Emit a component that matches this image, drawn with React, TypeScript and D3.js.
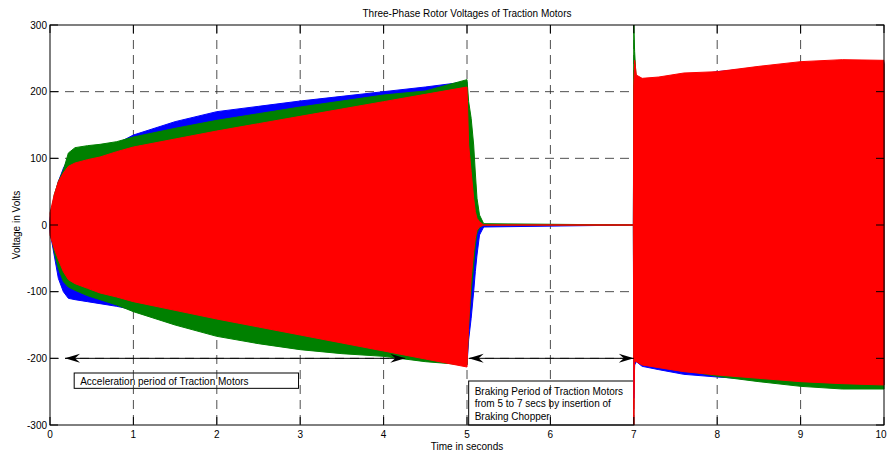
import React from 'react';
import * as d3 from 'd3';

// envelope of each rotor phase voltage (V)
const time = [0, 0.05, 0.1, 0.16, 0.22, 0.3, 0.45, 0.6, 0.8, 1.0, 1.5, 2.0, 2.5, 3.0, 3.5, 4.0, 4.5, 5.0,
  5.02, 5.05, 5.08, 5.1, 5.12, 5.15, 5.2, 6.995, 7.0, 7.01, 7.03, 7.1, 7.3, 7.6, 8.0, 8.5, 9.0, 9.5, 10];

const blueUpper = [10, 40, 65, 85, 100, 108, 112, 116, 122, 135, 155, 170, 178, 186, 193, 200, 207, 215,
  60, 30, 15, 8, 5, 2, 0, 0, 200, 215, 215, 212, 215, 222, 230, 236, 240, 244, 244];
const blueLower = [-10, -45, -80, -100, -110, -112, -115, -118, -122, -127, -145, -160, -170, -180, -188, -195, -200, -210,
  -172, -140, -100, -70, -45, -15, -3, 0, -260, -210, -205, -212, -217, -224, -228, -232, -236, -240, -240];

const greenUpper = [5, 45, 65, 82, 108, 116, 119, 121, 125, 132, 145, 157, 167, 177, 186, 195, 201, 218,
  185, 160, 120, 78, 40, 15, 2, 0, 300, 260, 215, 212, 214, 220, 228, 234, 238, 242, 242];
const greenLower = [-5, -40, -65, -85, -93, -98, -106, -112, -120, -130, -150, -167, -178, -187, -193, -197, -205, -210,
  -150, -100, -60, -30, -12, -4, 0, 0, -200, -205, -200, -207, -212, -218, -227, -235, -242, -246, -246];

const redUpper = [18, 45, 65, 78, 88, 93, 98, 102, 110, 117, 129, 141, 152, 163, 174, 185, 196, 207,
  120, 80, 40, 20, 10, 5, 0, 0, 210, 247, 225, 220, 222, 228, 230, 238, 245, 248, 247];
const redLower = [-15, -35, -52, -70, -82, -88, -95, -102, -108, -115, -128, -141, -153, -165, -177, -189, -201, -213,
  -150, -80, -40, -20, -8, -3, 0, 0, -300, -205, -205, -210, -214, -220, -225, -230, -235, -238, -240];

const xTicks = [0, 1, 2, 3, 4, 5, 6, 7, 8, 9, 10];
const yTicks = [-300, -200, -100, 0, 100, 200, 300];

const title = 'Three-Phase Rotor Voltages of Traction Motors';
const xLabel = 'Time in seconds';
const yLabel = 'Voltage in Volts';

// annotations in data units
const accelArrow = [0.18, 4.26, -200];
const brakeArrow = [5.02, 7.0, -200];
const accelText = ['Acceleration period of Traction Motors'];
const brakeText = ['Braking Period of Traction Motors', 'from 5 to 7 secs by insertion of', 'Braking Chopper'];

const W = 888, H = 454;
const font = 'Liberation Sans, Arial, Helvetica, sans-serif';

export default function App() {
  const x = d3.scaleLinear().domain([0, 10]).range([50, 884]);
  const y = d3.scaleLinear().domain([-300, 300]).range([425, 25]);

  const band = (up: number[], lo: number[]) =>
    d3.area<number>()
      .x(d => x(d))
      .y0((_, i) => y(lo[i]))
      .y1((_, i) => y(up[i]))(time) || '';

  const phases = [
    { c: '#0000ff', up: blueUpper, lo: blueLower },
    { c: '#008000', up: greenUpper, lo: greenLower },
    { c: '#ff0000', up: redUpper, lo: redLower },
  ];

  const arrow = (a: number[], key: string) => {
    const x0 = x(a[0]), x1 = x(a[1]), yy = y(a[2]);
    const head = (tip: number, dir: number) =>
      `M${tip},${yy}L${tip + dir * 15},${yy - 4.5}L${tip + dir * 10},${yy}L${tip + dir * 15},${yy + 4.5}Z`;
    return (
      <g key={key}>
        <line x1={x0} x2={x1} y1={yy} y2={yy} stroke="#000" strokeWidth={1} />
        <path d={head(x0, 1)} fill="#000" />
        <path d={head(x1, -1)} fill="#000" />
      </g>
    );
  };

  const x0 = x(0), x1 = x(10), y0 = y(-300), y1 = y(300);

  return (
    <svg width={W} height={H} style={{ position: 'absolute', left: 0, top: 0, background: '#fff' }}
      fontFamily={font}>
      <rect width={W} height={H} fill="#fff" />

      {/* text boxes */}
      <rect x={x(0.29)} y={y(-222)} width={x(2.98) - x(0.29)} height={y(-245) - y(-222)}
        fill="none" stroke="#000" strokeWidth={1} />
      <text x={x(0.29) + 6} y={385} fontSize={10}>{accelText[0]}</text>
      <rect x={x(5.02)} y={y(-234)} width={x(7.0) - x(5.02)} height={y(-300) - y(-234)}
        fill="none" stroke="#000" strokeWidth={1} />
      {brakeText.map((t, i) => (
        <text key={i} x={x(5.02) + 6} y={394.5 + i * 12.5} fontSize={10}>{t}</text>
      ))}

      {/* grid */}
      {xTicks.slice(1, -1).map(t => (
        <line key={'gx' + t} x1={x(t)} x2={x(t)} y1={y1} y2={y0} stroke="#222" strokeWidth={0.8}
          strokeDasharray="9,6" />
      ))}
      {yTicks.slice(1, -1).map(t => (
        <line key={'gy' + t} x1={x0} x2={x1} y1={y(t)} y2={y(t)} stroke="#222" strokeWidth={0.8}
          strokeDasharray="9,6" />
      ))}

      {/* phase voltages */}
      {phases.map(p => (
        <path key={p.c} d={band(p.up, p.lo)} fill={p.c} stroke={p.c} strokeWidth={1} />
      ))}

      {arrow(accelArrow, 'a1')}
      {arrow(brakeArrow, 'a2')}

      {/* axes box and ticks */}
      <rect x={x0} y={y1} width={x1 - x0} height={y0 - y1} fill="none" stroke="#000" strokeWidth={1} />
      {xTicks.map(t => (
        <g key={'tx' + t}>
          <line x1={x(t)} x2={x(t)} y1={y0} y2={y0 - 8} stroke="#000" />
          <line x1={x(t)} x2={x(t)} y1={y1} y2={y1 + 8} stroke="#000" />
          <text x={t === 10 ? x(t) - 3 : x(t)} y={438} fontSize={10} textAnchor="middle">{t}</text>
        </g>
      ))}
      {yTicks.map(t => (
        <g key={'ty' + t}>
          <line x1={x0} x2={x0 + 8} y1={y(t)} y2={y(t)} stroke="#000" />
          <line x1={x1} x2={x1 - 8} y1={y(t)} y2={y(t)} stroke="#000" />
          <text x={47} y={y(t) + 3.5} fontSize={10} textAnchor="end">{t}</text>
        </g>
      ))}

      <text x={(x0 + x1) / 2} y={17} fontSize={10} textAnchor="middle">{title}</text>
      <text x={(x0 + x1) / 2} y={450} fontSize={10} textAnchor="middle">{xLabel}</text>
      <text transform={`translate(20,${y(0)}) rotate(-90)`} fontSize={10} textAnchor="middle">{yLabel}</text>
    </svg>
  );
}
